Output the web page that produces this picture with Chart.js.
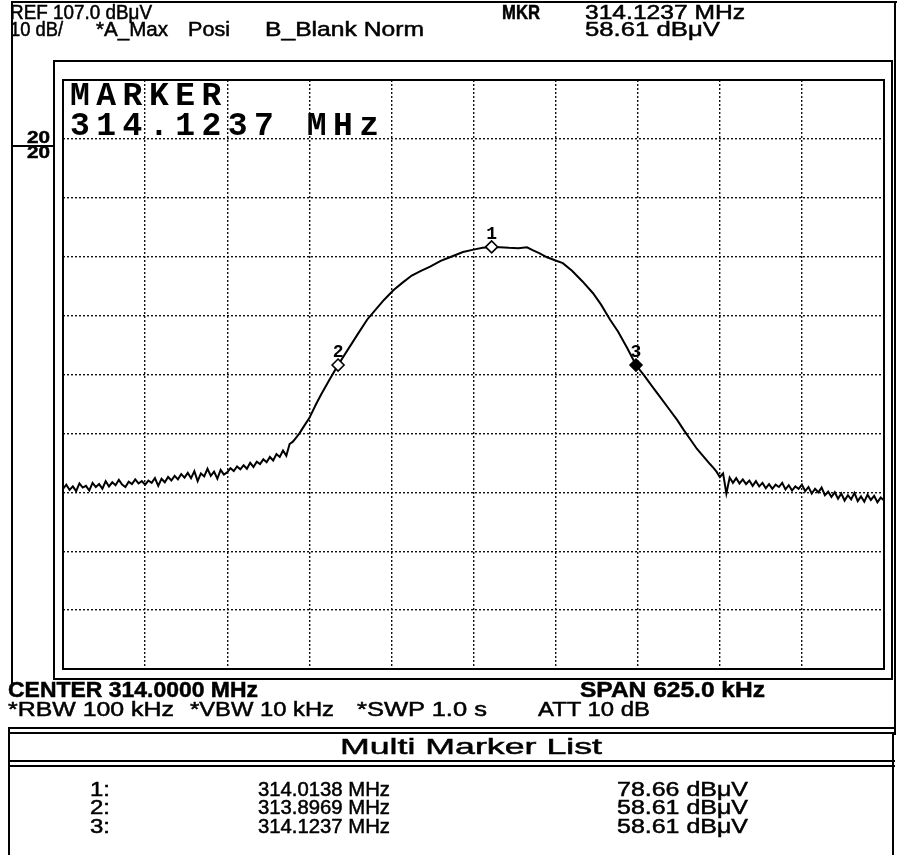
<!DOCTYPE html>
<html>
<head>
<meta charset="utf-8">
<script src="https://cdn.jsdelivr.net/npm/chart.js@4"></script>
<style>
  html, body { margin:0; padding:0; background:#fff; }
  #page { position:relative; width:897px; height:855px; overflow:hidden; background:#fff; }
  #c { position:absolute; left:0; top:0; }
  .t { position:absolute; white-space:nowrap; color:#000; font-family:"Liberation Sans", Arial, sans-serif;
       transform-origin:0 50%; line-height:1; -webkit-text-stroke:0.5px #000; }
  .mk { position:absolute; white-space:nowrap; color:#000; font-family:"Liberation Mono", "Courier New", monospace;
        font-size:33px; font-weight:bold; letter-spacing:6.5px; line-height:1; }
  .ml { position:absolute; color:#000; font-family:"Liberation Mono", "Courier New", monospace; font-weight:bold;
        font-size:18px; line-height:1; transform:translate(-50%,-50%); }
</style>
</head>
<body>
<div id="page">
  <canvas id="c" width="897" height="855"></canvas>
</div>
<script>
// ---------------- data ----------------
const CENTER_MHZ = 314.0;
const SPAN_KHZ = 625.0;
const REF_LEVEL = 107.0;
const DB_PER_DIV = 10;

// trace: frequency offset from centre (kHz)
const traceOffsetKHz = [
  -312.5,-310,-307.5,-305,-302.5,-300,-297.5,-295,-292.5,-290,
  -287.5,-285,-282.5,-280,-277.5,-275,-272.5,-270,-267.5,-265,
  -262.5,-260,-257.5,-255,-252.5,-250,-247.5,-245,-242.5,-240,
  -237.5,-235,-232.5,-230,-227.5,-225,-222.5,-220,-217.5,-215,
  -212.5,-210,-207.5,-205,-202.5,-200,-197.5,-195,-192.5,-190,
  -187.5,-185,-182.5,-180,-177.5,-175,-172.5,-170,-167.5,-165,
  -162.5,-160,-157.5,-155,-152.5,-150,-147.5,-145,-142.5,-140,
  -137.5,-135,-132.5,-130,
  -125,-120,-116,-110,-103.1,-96,-88,-81,-75,-68,
  -61,-54,-47,-40,-33,-25,-17,-8,0,7,
  13.8,20,27,34,40.7,45,50,56,62,68,
  75,83,91,97,104,110,117,123.7,130,136,
  142,148,155,160,165,170,175,180,182.5,
  185,187.5,190,192.5,195,197.5,200,202.5,205,207.5,
  210,212.5,215,217.5,220,222.5,225,227.5,230,232.5,
  235,237.5,240,242.5,245,247.5,250,252.5,255,257.5,
  260,262.5,265,267.5,270,272.5,275,277.5,280,282.5,
  285,287.5,290,292.5,295,297.5,300,302.5,305,307.5,
  310,312.5
];
// trace: level (dBuV)
const traceLevel = [
  37.6,38.3,37.4,38.0,37.2,38.5,37.8,38.1,37.3,38.6,
  37.9,38.4,37.6,38.9,38.0,38.7,38.2,39.1,38.3,37.9,
  38.8,38.4,39.2,38.5,38.9,38.3,39.0,38.6,39.4,38.1,
  39.3,38.7,39.6,39.0,39.8,39.2,40.1,39.5,40.3,39.4,
  40.6,38.9,40.2,39.7,41.0,39.8,40.5,39.3,40.8,40.0,
  40.4,41.1,40.6,41.4,40.9,41.6,41.0,42.0,41.3,42.2,
  41.8,42.6,42.1,43.0,42.4,43.5,43.0,44.1,43.2,45.2,
  45.6,46.3,47.0,47.9,
  49.6,51.9,53.6,56.0,58.61,61.1,63.9,66.3,67.9,69.7,
  71.3,72.6,73.8,74.6,75.3,76.3,77.0,77.8,78.2,78.5,
  78.66,78.6,78.5,78.45,78.6,78.1,77.6,76.9,76.4,75.9,
  74.6,72.8,70.8,68.9,66.3,64.3,61.5,58.61,56.8,55.0,
  53.2,51.4,49.3,47.6,46.0,44.4,43.1,41.8,41.2,
  40.5,39.6,40.2,36.8,39.5,38.6,39.4,38.5,39.2,38.4,
  39.0,38.1,38.9,38.0,38.6,37.7,38.4,37.6,38.3,37.9,
  38.6,37.5,38.2,37.3,38.0,37.6,38.3,37.2,37.9,36.8,
  37.6,37.0,37.8,36.5,37.1,36.2,37.0,35.9,36.8,35.6,
  36.5,35.8,36.9,35.5,36.3,35.4,36.6,35.7,36.4,35.3,
  36.1,35.6
];

// markers
const markerLabels = ['1', '2', '3'];
const markerFreqMHz = [314.0138, 313.8969, 314.1237];
const markerLevel = [78.66, 58.61, 58.61];
const activeMarker = 2; // index of marker 3

// ---------------- chart ----------------
const xMin = CENTER_MHZ - SPAN_KHZ / 2000;
const xMax = CENTER_MHZ + SPAN_KHZ / 2000;
const yMax = REF_LEVEL, yMin = REF_LEVEL - 10 * DB_PER_DIV;

const tracePts = traceOffsetKHz.map((k, i) => ({ x: CENTER_MHZ + k / 1000, y: traceLevel[i] }));
const markerPts = markerFreqMHz.map((f, i) => ({ x: f, y: markerLevel[i] }));

const framePlugin = {
  id: 'frames',
  beforeDraw(chart) {
    const ctx = chart.ctx;
    ctx.save();
    ctx.fillStyle = '#fff';
    ctx.fillRect(0, 0, chart.width, chart.height);
    ctx.strokeStyle = '#000';
    ctx.lineWidth = 2;
    ctx.beginPath();
    ctx.moveTo(12, 2); ctx.lineTo(897, 2);
    ctx.moveTo(12, 1); ctx.lineTo(12, 684);
    ctx.moveTo(895, 1); ctx.lineTo(895, 735);
    ctx.rect(54, 61, 838, 618);
    ctx.moveTo(12, 146); ctx.lineTo(54, 146);
    ctx.stroke();
    ctx.beginPath();
    ctx.moveTo(8, 728); ctx.lineTo(895, 728);
    ctx.moveTo(8, 733); ctx.lineTo(895, 733);
    ctx.moveTo(8, 761); ctx.lineTo(895, 761);
    ctx.moveTo(8, 766); ctx.lineTo(895, 766);
    ctx.moveTo(9, 728); ctx.lineTo(9, 855);
    ctx.moveTo(893, 733); ctx.lineTo(893, 855);
    ctx.stroke();
    ctx.restore();
  },
  afterDatasetsDraw(chart) {
    const a = chart.chartArea, ctx = chart.ctx;
    ctx.save();
    ctx.strokeStyle = '#000';
    ctx.lineWidth = 2;
    ctx.strokeRect(a.left, a.top, a.right - a.left, a.bottom - a.top);
    ctx.restore();
  }
};

const chart = new Chart(document.getElementById('c'), {
  type: 'scatter',
  data: {
    datasets: [
      {
        label: 'markers',
        data: markerPts,
        pointStyle: 'rectRot',
        pointRadius: 6,
        pointBorderWidth: 1.6,
        pointBorderColor: '#000',
        pointBackgroundColor: markerPts.map((p, i) => i === activeMarker ? '#000' : '#fff'),
        showLine: false,
        order: 0
      },
      {
        label: 'trace',
        data: tracePts,
        showLine: true,
        borderColor: '#000',
        borderWidth: 2,
        pointRadius: 0,
        tension: 0,
        order: 1
      }
    ]
  },
  options: {
    responsive: false,
    animation: false,
    devicePixelRatio: 1,
    layout: { padding: { left: 63, top: 80, right: 13, bottom: 186 } },
    plugins: { legend: { display: false }, tooltip: { enabled: false } },
    scales: {
      x: {
        type: 'linear', min: xMin, max: xMax,
        ticks: { display: false, stepSize: SPAN_KHZ / 10000 },
        grid: { color: '#111', lineWidth: 1.4, drawTicks: false },
        border: { display: false, dash: [2, 2] }
      },
      y: {
        type: 'linear', min: yMin, max: yMax,
        ticks: { display: false, stepSize: DB_PER_DIV },
        grid: { color: '#111', lineWidth: 1.4, drawTicks: false },
        border: { display: false, dash: [2, 2] }
      }
    }
  },
  plugins: [framePlugin]
});

// ---------------- text ----------------
const page = document.getElementById('page');
function addText(t, x, y, w, fs, bold) {
  const d = document.createElement('div');
  d.className = 't';
  d.textContent = t;
  d.style.left = x + 'px';
  d.style.top = (y - 0.5 * fs) + 'px';
  d.style.fontSize = fs + 'px';
  if (bold) d.style.fontWeight = 'bold';
  d.dataset.w = w;
  page.appendChild(d);
  return d;
}
const act = activeMarker;
const fmtF = f => f.toFixed(4) + ' MHz';
const fmtL = l => l.toFixed(2) + ' dBμV';

addText('REF ' + REF_LEVEL.toFixed(1) + ' dBμV', 10, 12, 142, 20, false);
addText('MKR', 502, 12, 38, 20, true);
addText(fmtF(markerFreqMHz[act]), 585, 12, 160, 20, false);
addText(DB_PER_DIV + ' dB/', 10, 29, 53, 20, false);
addText('*A_Max', 96, 29, 72, 20, false);
addText('Posi', 188, 29, 42, 20, false);
addText('B_Blank Norm', 265, 29, 159, 20, false);
addText(fmtL(markerLevel[act]), 585, 29, 135, 20, false);
addText('20', 27, 137, 23, 17, true);
addText('20', 27, 152, 23, 17, true);

addText('CENTER ' + CENTER_MHZ.toFixed(4) + ' MHz', 8, 690, 250, 22, true);
addText('SPAN ' + SPAN_KHZ.toFixed(1) + ' kHz', 580, 690, 185, 22, true);
addText('*RBW 100 kHz', 8, 709, 166, 20, false);
addText('*VBW 10 kHz', 190, 709, 144, 20, false);
addText('*SWP 1.0 s', 357, 709, 130, 20, false);
addText('ATT 10 dB', 538, 709, 112, 20, false);
addText('Multi Marker List', 340, 747, 262, 22, false);

const rowY = [789, 807, 826];
markerLabels.forEach((m, i) => {
  addText(m + ':', 90, rowY[i], 20, 20, false);
  addText(fmtF(markerFreqMHz[i]), 258, rowY[i], 132, 20, false);
  addText(fmtL(markerLevel[i]), 617, rowY[i], 131, 20, false);
});

// big marker readout inside the screen
const mk1 = document.createElement('div');
mk1.className = 'mk'; mk1.textContent = 'MARKER';
mk1.style.left = '70px'; mk1.style.top = '80px';
page.appendChild(mk1);
const mk2 = document.createElement('div');
mk2.className = 'mk'; mk2.textContent = markerFreqMHz[act].toFixed(4) + ' MHz';
mk2.style.left = '70px'; mk2.style.top = '110px';
page.appendChild(mk2);

// marker numbers, placed through the chart's scales
markerPts.forEach((p, i) => {
  const d = document.createElement('div');
  d.className = 'ml';
  d.textContent = markerLabels[i];
  d.style.left = chart.scales.x.getPixelForValue(p.x) + 'px';
  d.style.top = (chart.scales.y.getPixelForValue(p.y) - 13) + 'px';
  page.appendChild(d);
});

function fit() {
  document.querySelectorAll('.t').forEach(el => {
    el.style.transform = 'none';
    const w = el.getBoundingClientRect().width;
    const tw = parseFloat(el.dataset.w);
    if (w > 0) el.style.transform = 'scaleX(' + (tw / w) + ')';
  });
}
fit();
if (document.fonts && document.fonts.ready) document.fonts.ready.then(fit);
</script>
</body>
</html>
